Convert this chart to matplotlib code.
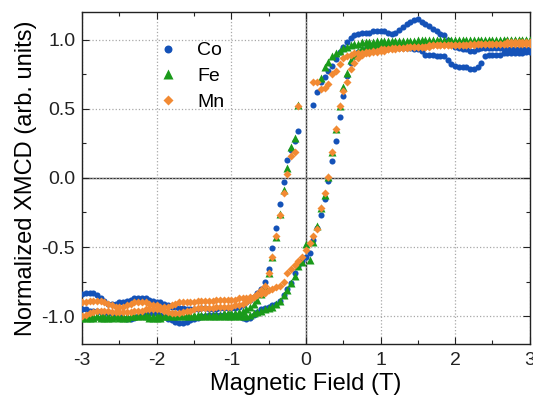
import numpy as np
import matplotlib.pyplot as plt
from matplotlib.ticker import MultipleLocator

plt.rcParams['font.family'] = ['Liberation Sans', 'DejaVu Sans']
plt.rcParams['axes.unicode_minus'] = False

nan = np.nan

# applied field (T), measurement setpoints shared by every sweep
field = [-3.00, -2.95, -2.90, -2.85, -2.80, -2.75, -2.70, -2.65, -2.60, -2.55,
         -2.50, -2.45, -2.40, -2.35, -2.30, -2.25, -2.20, -2.15, -2.10, -2.05,
         -2.00, -1.95, -1.90, -1.85, -1.80, -1.75, -1.70, -1.65, -1.60, -1.55,
         -1.50, -1.45, -1.40, -1.35, -1.30, -1.25, -1.20, -1.15, -1.10, -1.05,
         -1.00, -0.95, -0.90, -0.85, -0.80, -0.75, -0.70, -0.65, -0.60, -0.55,
         -0.50, -0.45, -0.40, -0.35, -0.30, -0.25, -0.20, -0.15, -0.10, -0.05,
         0.00, 0.05, 0.10, 0.15, 0.20, 0.25, 0.30, 0.35, 0.40, 0.45,
         0.50, 0.55, 0.60, 0.65, 0.70, 0.75, 0.80, 0.85, 0.90, 0.95,
         1.00, 1.05, 1.10, 1.15, 1.20, 1.25, 1.30, 1.35, 1.40, 1.45,
         1.50, 1.55, 1.60, 1.65, 1.70, 1.75, 1.80, 1.85, 1.90, 1.95,
         2.00, 2.05, 2.10, 2.15, 2.20, 2.25, 2.30, 2.35, 2.40, 2.45,
         2.50, 2.55, 2.60, 2.65, 2.70, 2.75, 2.80, 2.85, 2.90, 2.95,
         3.00]

# Co, field sweep down (+3 -> -3) and up (-3 -> +3)
co_down = [-0.84, -0.83, -0.83, -0.83, -0.85, -0.87, -0.89, -0.91, -0.91, -0.91,
           -0.90, -0.90, -0.89, -0.88, -0.87, -0.87, -0.87, -0.87, -0.88, -0.89,
           -0.90, -0.90, -0.91, -0.92, -0.93, -0.93, -0.94, -0.94, -0.95, -0.95,
           -0.95, -0.95, -0.94, -0.94, -0.95, -0.95, -0.95, -0.94, -0.94, -0.94,
           -0.94, -0.94, -0.93, -0.92, -0.90, -0.88, -0.86, -0.83, -0.80, -0.75,
           -0.66, -0.51, -0.36, -0.19, -0.03, 0.13, 0.20, 0.27, 0.34, nan,
           nan, nan, 0.53, 0.62, 0.69, 0.73, 0.77, 0.81, 0.86, 0.91,
           0.95, 0.98, 1.01, 1.03, 1.04, 1.05, 1.05, 1.05, 1.06, 1.06,
           1.06, 1.06, 1.05, 1.04, 1.05, 1.07, 1.09, 1.11, 1.13, 1.14,
           1.15, 1.13, 1.11, 1.10, 1.08, 1.06, 1.04, 1.03, 1.00, 0.97,
           0.95, 0.94, 0.93, 0.93, 0.92, 0.92, 0.93, 0.94, 0.94, 0.94,
           0.94, 0.94, 0.94, 0.93, 0.93, 0.93, 0.93, 0.93, 0.93, 0.93,
           0.93]
co_up = [-0.95, -0.95, -0.96, -0.96, -0.96, -0.97, -0.97, -0.98, -0.98, -0.99,
         -1.00, -1.01, -1.02, -1.02, -1.01, -1.00, -0.99, -0.98, -0.98, -0.98,
         -0.98, -0.99, -1.00, -1.02, -1.03, -1.04, -1.05, -1.05, -1.04, -1.03,
         -1.02, -1.01, -1.00, -1.00, -0.99, -0.99, -0.99, -0.99, -0.99, -0.99,
         -0.99, -0.99, -1.00, -1.01, -1.02, -1.01, -0.99, -0.97, -0.95, -0.94,
         -0.93, -0.92, -0.91, -0.89, -0.85, -0.80, -0.76, -0.69, -0.64, -0.60,
         -0.57, -0.54, -0.45, -0.36, -0.27, -0.15, -0.02, 0.12, 0.27, 0.44,
         0.59, 0.74, 0.83, 0.88, 0.91, 0.92, 0.93, 0.93, 0.94, 0.94,
         0.94, 0.94, 0.94, 0.94, 0.94, 0.94, 0.94, 0.94, 0.94, 0.93,
         0.93, 0.92, 0.89, 0.89, 0.89, 0.88, 0.88, 0.88, 0.85, 0.82,
         0.81, 0.80, 0.80, 0.80, 0.79, 0.785, 0.80, 0.83, 0.88, 0.89,
         0.89, 0.89, 0.89, 0.90, 0.90, 0.90, 0.90, 0.90, 0.905, 0.91,
         0.91]

# Fe
fe_down = [-1.00, -1.00, -1.01, -1.01, -1.00, -1.00, -1.00, -1.01, -1.01, -1.00,
           -1.00, -1.00, -1.00, -1.00, -1.00, -0.99, -0.99, -0.99, -1.00, -1.00,
           -1.00, -1.00, -1.00, -0.99, -0.99, -0.99, -0.99, -0.99, -0.99, -0.99,
           -0.99, -0.99, -0.99, -0.99, -0.99, -0.99, -0.99, -0.99, -0.98, -0.98,
           -0.98, -0.98, -0.97, -0.96, -0.95, -0.93, -0.91, -0.88, -0.84, -0.78,
           -0.69, -0.57, -0.43, -0.26, -0.09, 0.07, 0.22, 0.29, 0.53, nan,
           nan, nan, nan, nan, 0.72, 0.80, 0.84, 0.88, 0.90, 0.92,
           0.94, 0.95, 0.96, 0.97, 0.97, 0.98, 0.98, 0.98, 0.98, 0.99,
           0.99, 0.99, 0.99, 0.99, 0.99, 0.99, 0.99, 0.99, 0.99, 0.99,
           1.00, 1.00, 1.00, 1.00, 1.00, 1.00, 1.00, 1.00, 1.00, 1.00,
           1.00, 1.00, 1.00, 1.00, 1.00, 1.00, 1.00, 1.00, 1.00, 1.00,
           1.00, 1.00, 1.00, 1.00, 1.00, 1.00, 1.00, 1.00, 1.00, 1.00,
           1.00]
fe_up = [-1.01, -1.01, -1.00, -1.00, -1.00, -1.01, -1.01, -1.00, -1.00, -1.00,
         -1.01, -1.01, -1.01, -1.00, -1.00, -1.00, -1.00, -1.00, -1.01, -1.01,
         -1.01, -1.01, -1.00, -1.00, -1.00, -1.00, -1.00, -1.00, -1.00, -1.00,
         -1.00, -1.00, -1.00, -1.00, -1.00, -1.00, -1.00, -1.00, -1.00, -1.00,
         -1.00, -1.00, -1.00, -1.00, -1.00, -0.99, -0.98, -0.97, -0.96, -0.95,
         -0.94, -0.93, -0.91, -0.89, -0.85, -0.81, -0.76, -0.71, -0.64, -0.61,
         -0.48, -0.59, -0.46, -0.35, -0.22, -0.12, 0.01, 0.19, 0.35, 0.52,
         0.66, 0.76, 0.85, 0.89, 0.92, 0.94, 0.95, 0.96, 0.96, 0.97,
         0.97, 0.97, 0.97, 0.97, 0.98, 0.98, 0.98, 0.98, 0.98, 0.98,
         0.98, 0.98, 0.98, 0.98, 0.99, 0.99, 0.99, 0.99, 0.99, 0.99,
         0.99, 0.99, 0.99, 0.99, 0.99, 0.99, 0.99, 0.99, 0.99, 0.99,
         0.99, 0.99, 0.99, 1.00, 1.00, 1.00, 1.00, 1.00, 1.00, 1.00,
         1.00]

# Mn
mn_down = [-1.00, -0.99, -0.98, -0.97, -0.96, -0.96, -0.96, -0.96, -0.97, -0.97,
           -0.97, -0.97, -0.97, -0.97, -0.96, -0.96, -0.96, -0.95, -0.95, -0.95,
           -0.95, -0.95, -0.96, -0.97, -0.98, -0.98, -0.98, -0.97, -0.96, -0.96,
           -0.95, -0.94, -0.94, -0.94, -0.94, -0.94, -0.93, -0.93, -0.93, -0.93,
           -0.93, -0.92, -0.92, -0.91, -0.90, -0.88, -0.86, -0.84, -0.81, -0.78,
           -0.69, -0.57, -0.42, -0.27, -0.11, 0.03, 0.16, 0.19, 0.52, nan,
           nan, nan, 0.69, 0.69, 0.64, 0.65, 0.68, 0.75, 0.77, 0.82,
           0.87, 0.88, 0.89, 0.90, 0.90, 0.90, 0.91, 0.91, 0.92, 0.92,
           0.93, 0.93, 0.93, 0.94, 0.94, 0.94, 0.94, 0.95, 0.95, 0.95,
           0.95, 0.95, 0.95, 0.96, 0.96, 0.96, 0.96, 0.96, 0.96, 0.96,
           0.96, 0.96, 0.96, 0.96, 0.97, 0.97, 0.97, 0.97, 0.97, 0.97,
           0.97, 0.97, 0.97, 0.97, 0.98, 0.98, 0.98, 0.98, 0.98, 0.98,
           0.98]
mn_up = [-0.90, -0.90, -0.89, -0.89, -0.89, -0.89, -0.90, -0.91, -0.92, -0.93,
         -0.93, -0.93, -0.92, -0.91, -0.90, -0.90, -0.90, -0.90, -0.91, -0.92,
         -0.92, -0.93, -0.93, -0.93, -0.92, -0.91, -0.90, -0.90, -0.90, -0.90,
         -0.90, -0.89, -0.89, -0.89, -0.89, -0.89, -0.88, -0.88, -0.88, -0.88,
         -0.88, -0.88, -0.87, -0.87, -0.87, -0.86, -0.86, -0.85, -0.84, -0.83,
         -0.81, -0.80, -0.79, -0.78, -0.75, -0.69, -0.66, -0.63, -0.60, -0.57,
         -0.52, -0.47, -0.42, -0.37, -0.22, -0.11, 0.01, 0.19, 0.35, 0.52,
         0.63, 0.69, 0.79, 0.83, 0.87, 0.89, 0.90, 0.90, 0.91, 0.91,
         0.92, 0.92, 0.93, 0.93, 0.93, 0.94, 0.94, 0.94, 0.95, 0.95,
         0.95, 0.95, 0.95, 0.95, 0.96, 0.96, 0.96, 0.96, 0.96, 0.96,
         0.96, 0.96, 0.96, 0.96, 0.96, 0.96, 0.97, 0.97, 0.97, 0.97,
         0.97, 0.97, 0.97, 0.97, 0.97, 0.97, 0.97, 0.97, 0.97, 0.97,
         0.97]

fig = plt.figure(figsize=(5.33, 3.98), dpi=100)
ax = fig.add_axes([0.154, 0.136, 0.840, 0.834])

ax.grid(True, which='major', linestyle=':', color='#a8a8a8', linewidth=0.9)
ax.axhline(0, color='#333333', lw=1.0, zorder=1)
ax.axvline(0, color='#333333', lw=1.0, zorder=1)

ax.plot(field, co_down, 'o', color='#1452b8', ms=4.4, mec='none', label='Co', zorder=3)
ax.plot(field, co_up, 'o', color='#1452b8', ms=4.4, mec='none', zorder=3)
ax.plot(field, fe_down, '^', color='#1a9a1a', ms=5.2, mec='none', label='Fe', zorder=3)
ax.plot(field, fe_up, '^', color='#1a9a1a', ms=5.2, mec='none', zorder=3)
ax.plot(field, mn_down, 'D', color='#f28a33', ms=4.2, mec='none', label='Mn', zorder=3)
ax.plot(field, mn_up, 'D', color='#f28a33', ms=4.2, mec='none', zorder=3)

ax.set_xlim(-3, 3)
ax.set_ylim(-1.2, 1.2)
ax.xaxis.set_major_locator(MultipleLocator(1))
ax.xaxis.set_minor_locator(MultipleLocator(0.5))
ax.yaxis.set_major_locator(MultipleLocator(0.5))
ax.yaxis.set_minor_locator(MultipleLocator(0.25))
ax.xaxis.set_major_formatter(plt.FuncFormatter(lambda v, p: '%d' % round(v)))
ax.yaxis.set_major_formatter(plt.FuncFormatter(lambda v, p: '%.1f' % v))
ax.tick_params(which='both', direction='in', top=True, right=True,
               labelsize=14, colors='#222222')
ax.tick_params(axis='x', pad=6)
ax.tick_params(axis='y', pad=5)
ax.tick_params(which='major', length=5, width=0.8)
ax.tick_params(which='minor', length=3, width=0.8)
for s in ax.spines.values():
    s.set_linewidth(1.0)
    s.set_color('#222222')

ax.set_xlabel('Magnetic Field (T)', fontsize=17, labelpad=3)
ax.set_ylabel('Normalized XMCD (arb. units)', fontsize=17, labelpad=3)

ax.legend(loc='upper left', bbox_to_anchor=(0.17, 0.91), frameon=False,
          fontsize=14, handlelength=1.0, handletextpad=1.0, labelspacing=0.42,
          borderpad=0, borderaxespad=0, markerscale=1.3)

fig.savefig('out.png', dpi=100)
